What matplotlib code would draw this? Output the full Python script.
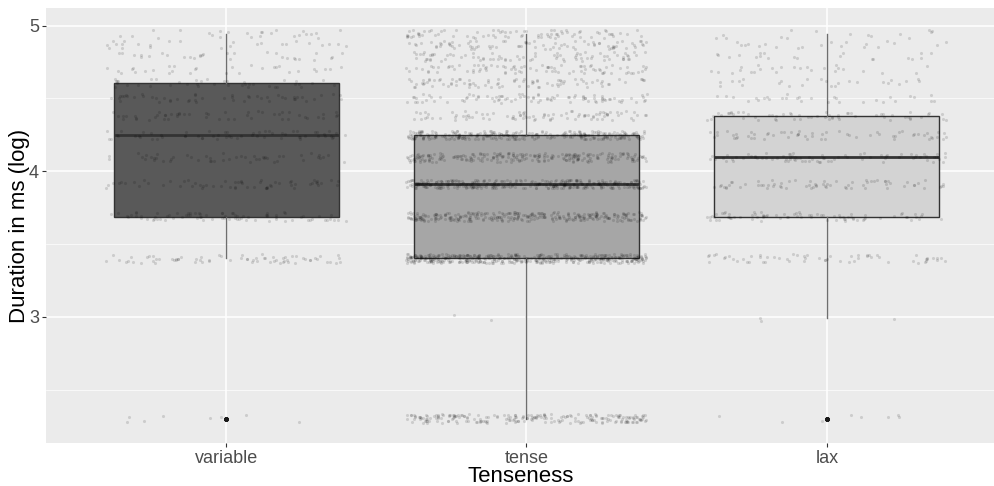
"""
Boxplot of segment duration (log ms) by tenseness, ggplot-like styling,
with faint jittered tokens drawn over the boxes.
"""

import numpy as np
import matplotlib.pyplot as plt

# ---------------------------------------------------------------------------
# Data: durations come in 10 ms steps; counts
# ---------------------------------------------------------------------------

groups = ["variable", "tense", "lax"]
duration_ms = [10, 20, 30, 40, 50, 60, 70, 80, 90, 100, 110, 120, 130, 140]

counts_variable = [8, 0, 70, 80, 60, 50, 60, 50, 50, 40, 30, 30, 25, 25]
counts_tense    = [220, 2, 450, 300, 340, 240, 300, 90, 90, 85, 85, 80, 80, 80]
counts_lax      = [8, 3, 60, 80, 70, 80, 60, 60, 30, 25, 25, 20, 20, 15]

box_fills = ["#595959", "#A6A6A6", "#D3D3D3"]


def expand(counts):
    """Turn per-level counts into a flat array of log durations."""
    return np.repeat(np.log(duration_ms), counts)


def main():
    plt.rcParams["font.family"] = ["Liberation Sans", "DejaVu Sans"]

    fig = plt.figure(figsize=(9.95, 4.86), dpi=100)
    ax = fig.add_axes([0.0462, 0.0885, 0.9538, 0.895])
    ax.set_facecolor("#EBEBEB")

    data = [expand(c) for c in (counts_variable, counts_tense, counts_lax)]
    positions = np.arange(1, len(groups) + 1)

    bp = ax.boxplot(data, positions=positions, widths=0.75, whis=1.5,
                    patch_artist=True, showcaps=False,
                    boxprops=dict(edgecolor="#333333", linewidth=1.0),
                    whiskerprops=dict(color="#6e6e6e", linewidth=1.0),
                    medianprops=dict(color="#333333", linewidth=2.0),
                    flierprops=dict(marker="o", markersize=2.2,
                                    markerfacecolor="#1a1a1a",
                                    markeredgecolor="#1a1a1a"),
                    zorder=2)
    for patch, col in zip(bp["boxes"], box_fills):
        patch.set_facecolor(col)

    # jittered tokens, like geom_jitter (width 0.4, height 0.4 * y resolution);
    # the jitter only moves the marks, the values stay as above
    rng = np.random.default_rng(3)
    res_y = np.log(140) - np.log(130)
    for pos, vals in zip(positions, data):
        dx = rng.uniform(-0.4, 0.4, len(vals))
        dy = rng.uniform(-0.4, 0.4, len(vals)) * res_y
        ax.scatter(pos + dx, vals + dy, s=5, color="black", alpha=0.13,
                   linewidths=0, zorder=3)

    ax.set_xlim(0.4, 3.56)
    ax.set_ylim(2.135, 5.12)
    ax.set_xticks(positions)
    ax.set_xticklabels(groups)
    ax.set_yticks([3, 4, 5])
    ax.set_yticks([2.5, 3.5, 4.5], minor=True)

    ax.grid(which="major", color="white", linewidth=1.1, zorder=0)
    ax.grid(which="minor", axis="y", color="white", linewidth=0.5, zorder=0)
    ax.set_axisbelow(True)
    for s in ax.spines.values():
        s.set_visible(False)

    ax.tick_params(which="major", length=3, width=0.8, color="#333333",
                   labelcolor="#4D4D4D", labelsize=13, pad=2)
    ax.tick_params(which="minor", length=0)

    ax.set_xlabel("Tenseness", fontsize=16, color="black", labelpad=-1)
    ax.set_ylabel("Duration in ms (log)", fontsize=16, color="black",
                  labelpad=-1)

    fig.savefig("out.png", dpi=100)


if __name__ == "__main__":
    main()
